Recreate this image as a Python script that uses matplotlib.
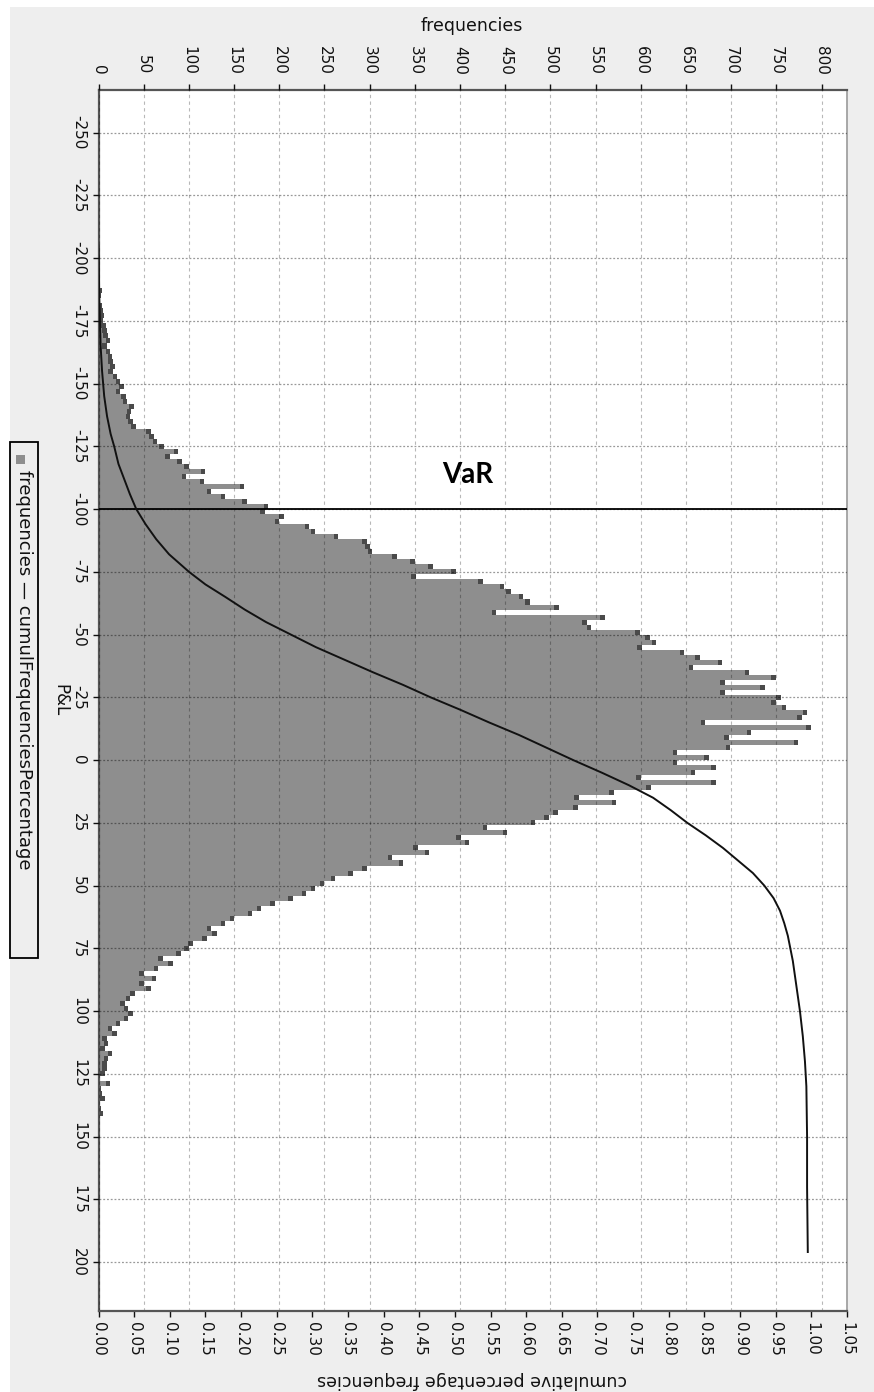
import numpy as np
import matplotlib
matplotlib.use("Agg")
import matplotlib.pyplot as plt
from matplotlib.patches import Rectangle
from matplotlib.ticker import FixedLocator, FormatStrFormatter

plt.rcParams['font.family'] = ['DejaVu Sans']
plt.rcParams['axes.unicode_minus'] = False

# ---------------- data ----------------
bin_width = 2
first_center = -205
freq = [1, 0, 1, 1, 2, 1, 1, 2, 2, 4, 3, 2, 4, 5, 6, 5, 8, 9, 10, 13,
        9, 13, 15, 16, 18, 16, 21, 24, 28, 24, 30, 32, 39, 36, 35, 38, 41, 58, 61, 65,
        72, 88, 79, 92, 100, 118, 97, 117, 161, 125, 140, 164, 188, 184, 205, 200, 233, 240, 265, 297,
        300, 303, 330, 350, 370, 395, 351, 425, 449, 456, 470, 477, 509, 440, 560, 540, 545, 599, 610, 617,
        601, 648, 665, 690, 658, 720, 749, 693, 737, 693, 755, 749, 761, 784, 778, 671, 788, 722, 697, 774,
        699, 640, 675, 640, 683, 660, 600, 683, 611, 570, 531, 573, 530, 508, 498, 483, 430, 452, 401, 410,
        353, 366, 325, 337, 297, 281, 262, 250, 240, 230, 215, 195, 180, 170, 150, 140, 125, 131, 120, 104,
        100, 91, 71, 82, 66, 50, 64, 50, 58, 40, 35, 29, 33, 38, 33, 24, 15, 20, 9, 11,
        7, 15, 11, 9, 9, 7, 2, 13, 3, 4, 7, 2, 3, 5, 1, 2, 1, 2, 1, 1,
        0, 1, 1, 0, 1, 1]
pnl_centers = first_center + bin_width * np.arange(len(freq))

cum_pnl = [-205, -195, -185, -175, -165, -155, -145, -137, -130, -125, -118, -112, -106,
           -100, -94, -88, -82, -75, -70, -65, -60, -55, -50, -45, -40, -35, -30, -25,
           -20, -15, -10, -5, 0, 5, 10, 15, 20, 25, 30, 35, 40, 45, 50, 55, 60, 65, 70,
           80, 90, 100, 110, 120, 130, 150, 170, 196]
cum_pct = [0.000, 0.0005, 0.001, 0.002, 0.003, 0.005, 0.008, 0.012, 0.017, 0.022, 0.028, 0.036, 0.044,
           0.053, 0.066, 0.081, 0.099, 0.127, 0.150, 0.178, 0.205, 0.235, 0.270, 0.305, 0.345, 0.385, 0.427, 0.466,
           0.508, 0.548, 0.590, 0.628, 0.666, 0.706, 0.744, 0.778, 0.803, 0.826, 0.852, 0.876, 0.897, 0.918, 0.934,
           0.947, 0.956, 0.962, 0.967, 0.974, 0.979, 0.984, 0.988, 0.991, 0.993, 0.994, 0.994, 0.995]

freq_ticks = list(range(0, 801, 50))
cum_ticks = [0.00, 0.05, 0.10, 0.15, 0.20, 0.25, 0.30, 0.35, 0.40, 0.45, 0.50,
             0.55, 0.60, 0.65, 0.70, 0.75, 0.80, 0.85, 0.90, 0.95, 1.00, 1.05]
pnl_ticks = list(range(-250, 201, 25))
var_level = -100

# ---------------- figure ----------------
W, H = 874, 1392
fig = plt.figure(figsize=(W / 100, H / 100), dpi=100, facecolor='#eeeeee')

def fx(px):
    return px / W

def fy(py):
    return 1 - py / H

fig.patches.append(Rectangle((0, 0), fx(10), 1, transform=fig.transFigure,
                             facecolor='white', edgecolor='none', zorder=-10))
fig.patches.append(Rectangle((0, fy(7)), 1, 7 / H, transform=fig.transFigure,
                             facecolor='white', edgecolor='none', zorder=-10))

L, R, T, B = 98.5, 847, 90, 1311
ax = fig.add_axes([fx(L), fy(B), (R - L) / W, (B - T) / H])
ax2 = ax.twiny()

ax.set_facecolor('white')
freq_arr = np.asarray(freq, dtype=float)
ax.barh(pnl_centers, freq_arr, height=bin_width, color='#8e8e8e', edgecolor='none', zorder=1)
# darker tips at the end of each bar (gradient look of the reference)
tip = np.minimum(freq_arr, 5.0)
ax.barh(pnl_centers, tip, left=freq_arr - tip, height=bin_width, color='#4a4a4a',
        edgecolor='none', zorder=1.1)
ax.set_xlim(0, 828)
ax.set_ylim(219.5, -267)
ax.set_axisbelow(False)

ax.xaxis.set_ticks_position('top')
ax.xaxis.set_label_position('top')
ax.xaxis.set_major_locator(FixedLocator(freq_ticks))
ax.yaxis.set_major_locator(FixedLocator(pnl_ticks))
ax.grid(axis='x', color='black', alpha=0.28, linestyle=(0, (3, 3)), linewidth=0.8)
ax.grid(axis='y', color='black', alpha=0.4, linestyle=(0, (1.5, 1.5)), linewidth=0.9)
ax.tick_params(axis='x', top=True, bottom=False, labeltop=True, labelbottom=False,
               labelrotation=-90, labelsize=11, length=4, width=1, pad=7,
               colors='#111111')
ax.tick_params(axis='y', left=True, labelrotation=-90, labelsize=11, length=4, width=1,
               pad=5, colors='#111111')
for lab in ax.get_yticklabels():
    lab.set_verticalalignment('center')

ax.axhline(var_level, color='black', linewidth=1.3, zorder=4)

for side in ['left', 'top']:
    ax.spines[side].set_color('#555555')
    ax.spines[side].set_linewidth(1.6)
ax.spines['right'].set_color('#9a9a9a')
ax.spines['right'].set_linewidth(1.2)
ax.spines['bottom'].set_visible(False)

ax2.plot(cum_pct, cum_pnl, color='#111111', linewidth=1.4, zorder=5)
ax2.set_xlim(0, 1.05)
ax2.set_ylim(219.5, -267)
ax2.xaxis.set_ticks_position('bottom')
ax2.xaxis.set_label_position('bottom')
ax2.xaxis.set_major_locator(FixedLocator(cum_ticks))
ax2.xaxis.set_major_formatter(FormatStrFormatter('%.2f'))
ax2.tick_params(axis='x', bottom=True, top=False, labelbottom=True, labeltop=False,
                labelrotation=-90, labelsize=11, length=4, width=1, pad=4,
                colors='#111111')
for side in ['left', 'top', 'right']:
    ax2.spines[side].set_visible(False)
ax2.spines['bottom'].set_color('#555555')
ax2.spines['bottom'].set_linewidth(1.6)

# texts
fig.text(fx(472), fy(26), 'frequencies', ha='center', va='center', fontsize=12.5,
         color='#111111')
fig.text(fx(472), fy(1380), 'cumulative percentage frequencies', rotation=180,
         ha='center', va='center', fontsize=12.5, color='#111111')
fig.text(fx(60), fy(700), 'P&L', rotation=270, ha='center', va='center', fontsize=12,
         color='#111111')
fig.text(fx(468), fy(475), 'VaR', ha='center', va='center', fontsize=20,
         fontweight='bold', family=['Lato', 'DejaVu Sans'], color='black')

# legend (drawn rotated, like the reference)
fig.patches.append(Rectangle((fx(10), fy(958)), 28 / W, (958 - 442) / H,
                             transform=fig.transFigure, fill=False,
                             edgecolor='black', linewidth=1.3))
fig.patches.append(Rectangle((fx(16), fy(464)), 9 / W, 9 / H,
                             transform=fig.transFigure, facecolor='#8e8e8e',
                             edgecolor='none'))
fig.text(fx(24), fy(470), 'frequencies \u2014 cumulFrequenciesPercentage', rotation=270,
         ha='center', va='top', fontsize=13, color='#111111')

fig.savefig('out.png', dpi=100, facecolor=fig.get_facecolor())
